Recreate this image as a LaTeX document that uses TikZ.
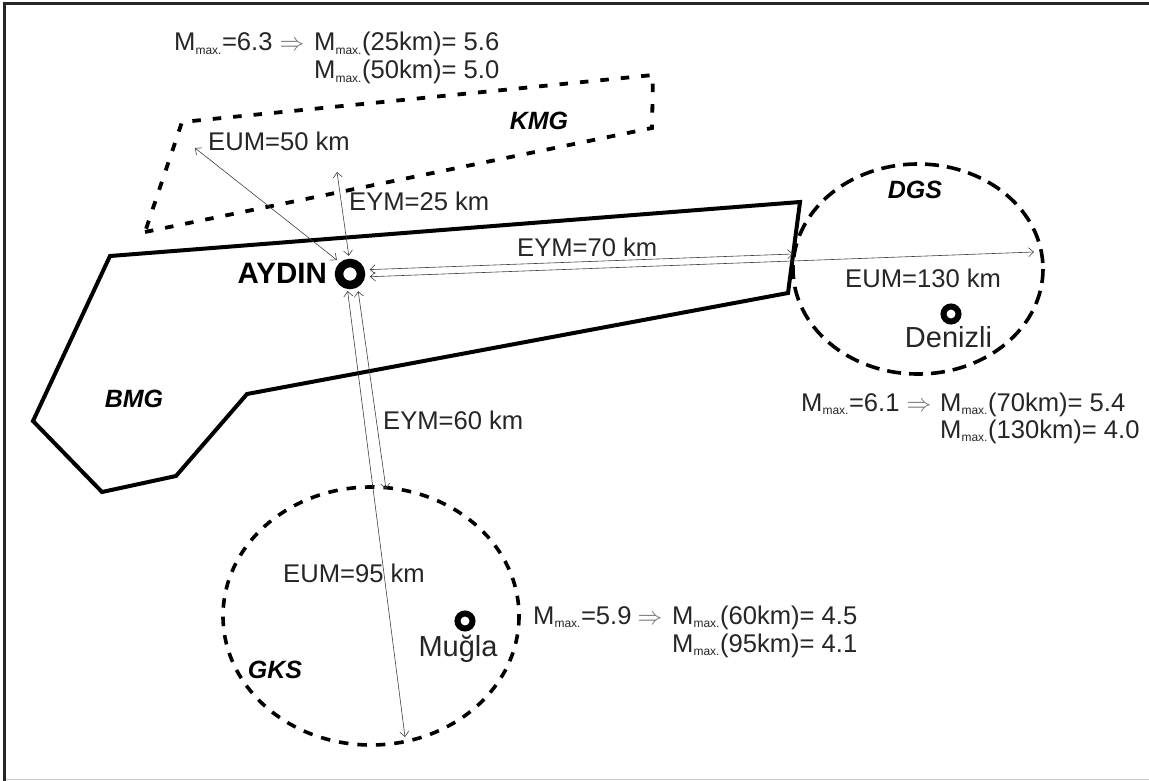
\documentclass[tikz,border=0pt]{standalone}
\usepackage{fontspec}
\setmainfont{Liberation Sans}
\usetikzlibrary{arrows.meta}
\newcommand{\mx}{M\textsubscript{\fontsize{12}{12}\selectfont max.}}
\tikzset{
  x=1pt,y=-1pt,
  solidline/.style={line width=4pt,line join=miter,black},
  kmgline/.style={line width=3.8pt,dash pattern=on 8.5pt off 12pt,black},
  dgsline/.style={line width=3.6pt,dash pattern=on 14pt off 8pt,black},
  gksline/.style={line width=3.6pt,dash pattern=on 9.5pt off 9pt,black},
  dist/.style={line width=0.6pt,black!75,{Straight Barb[length=5pt,width=9pt]}-{Straight Barb[length=5pt,width=9pt]}},
  lab/.style={inner sep=0pt,anchor=base west,font=\fontsize{25.6}{25.6}\selectfont,text=black!85},
  eq/.style={inner sep=0pt,anchor=base west,font=\fontsize{25.6}{25.6}\selectfont,text=black!85},
  implies/.style={inner sep=0pt,anchor=base,font=\fontsize{25}{25}\selectfont,text=black!55},
  zone/.style={inner sep=0pt,font=\fontsize{25}{25}\selectfont\bfseries\itshape},
  cityname/.style={inner sep=0pt,anchor=base,font=\fontsize{29}{29}\selectfont,text=black!85},
  city/.style={circle,draw=black,inner sep=0pt,fill=white},
}
\begin{document}
\begin{tikzpicture}
\useasboundingbox (0,0) rectangle (1149,781);
\fill[white] (0,0) rectangle (1149,781);
\draw[line width=3pt,black!85] (4.5,781) -- (4.5,3.5) -- (1149,3.5);
\draw[line width=1pt,black!20] (6,779) -- (1149,779);
% zones
\draw[kmgline] (145,232) -- (652,128) -- (653,75) -- (182,122) -- (145,232);
\draw[solidline] (110,256) -- (800,202) -- (788,293) -- (247,394) -- (176,476) -- (102,492) -- (33,421) -- cycle;
\coordinate (dc) at (918,269);
\draw[dgsline] (dc) ellipse (125 and 105);
\coordinate (gc) at (371,616);
\draw[gksline] (gc) ellipse (148 and 129);
% cities
\node[city,line width=8.5pt,minimum size=22pt] (ay) at (350,274) {};
\node[city,line width=6pt,minimum size=15pt] (de) at (951,314) {};
\node[city,line width=6pt,minimum size=15pt] (mu) at (465,621) {};
% connector ends
\coordinate (eum50) at (195,148);
\coordinate (eym25) at (337,172);
\coordinate (eym70) at (793,254);
\coordinate (eum130) at (1034,252);
\coordinate (eym60) at (386,489);
\coordinate (eum95) at (405,737);
\draw[dist,shorten >=4pt] (eum50) -- (ay.131);
\draw[dist,shorten >=3pt] (eym25) -- (ay.93);
\draw[dist,shorten >=5pt] (eym70) -- (ay.16);
\draw[dist,shorten >=5pt] (eum130) -- (ay.-11);
\draw[dist,shorten >=4pt] (eym60) -- (ay.-60);
\draw[dist,shorten >=2pt] (eum95) -- (ay.-100);
% labels
\node[lab] (t1) at (208,150) {EUM=50 km};
\node[lab] (t2) at (349,211) {EYM=25 km};
\node[lab] (t3) at (517,256) {EYM=70 km};
\node[lab] (t4) at (845,287) {EUM=130 km};
\node[lab] (t5) at (383,429) {EYM=60 km};
\node[lab] (t6) at (283,582) {EUM=95 km};
\node[inner sep=0pt,anchor=base east,font=\fontsize{29.5}{29.5}\selectfont\bfseries] (ayl) at (327,283) {AYDIN};
\node[cityname] (del) at (948.5,347) {Denizli};
\node[cityname] (mul) at (458,656) {Muğla};
\node[zone] (kmg) at (539,121) {KMG};
\node[zone] (dgs) at (915,190) {DGS};
\node[zone] (bmg) at (134,399) {BMG};
\node[zone] (gks) at (275,670) {GKS};
% equations
\node[eq] (a1) at (174,51) {\mx=6.3};
\node[implies] (a2) at (292,51) {$\Rightarrow$};
\node[eq] (a3) at (314,51) {\mx(25km)= 5.6};
\node[eq] (a4) at (314,79) {\mx(50km)= 5.0};
\node[eq] (b1) at (801,411) {\mx=6.1};
\node[implies] (b2) at (919,411) {$\Rightarrow$};
\node[eq] (b3) at (940,411) {\mx(70km)= 5.4};
\node[eq] (b4) at (940,438) {\mx(130km)= 4.0};
\node[eq] (c1) at (533,624) {\mx=5.9};
\node[implies] (c2) at (650,624) {$\Rightarrow$};
\node[eq] (c3) at (672,624) {\mx(60km)= 4.5};
\node[eq] (c4) at (672,652) {\mx(95km)= 4.1};
\end{tikzpicture}
\end{document}
